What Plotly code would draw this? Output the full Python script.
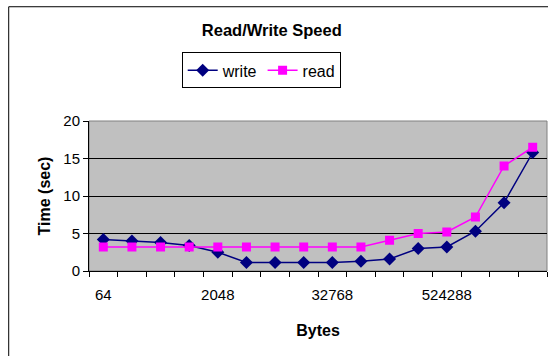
import plotly.graph_objects as go

sizes = ["64", "256", "512", "1024", "2048", "4096", "8192", "16384", "32768",
         "65536", "131072", "262144", "524288", "1048576", "2097152", "4194304"]
shown_labels = ["64", "2048", "32768", "524288"]
write_times = [4.2, 4.0, 3.8, 3.4, 2.5, 1.15, 1.15, 1.15, 1.15, 1.3, 1.6, 3.0, 3.2, 5.3, 9.1, 15.8]
read_times = [3.2, 3.2, 3.2, 3.2, 3.2, 3.2, 3.2, 3.2, 3.2, 3.2, 4.1, 5.0, 5.2, 7.2, 14.0, 16.5]

FONT = "Liberation Sans, Arial, sans-serif"

fig = go.Figure()
fig.add_trace(go.Scatter(
    x=sizes, y=write_times, name="write", mode="lines+markers",
    line=dict(color="#000080", width=1.5),
    marker=dict(symbol="diamond", size=10, color="#000080"),
))
fig.add_trace(go.Scatter(
    x=sizes, y=read_times, name="read", mode="lines+markers",
    line=dict(color="#FF00FF", width=1.5),
    marker=dict(symbol="square", size=9, color="#FF00FF"),
))

ticktext = [s if s in shown_labels else "" for s in sizes]

fig.update_layout(
    width=548, height=356,
    margin=dict(l=89, r=1, t=121, b=85),
    paper_bgcolor="white", plot_bgcolor="#C0C0C0",
    font=dict(family=FONT, size=15, color="black"),
    title=dict(text="Read/Write Speed", x=0.496, xanchor="center", y=0.916, yanchor="middle",
               font=dict(family=FONT, size=16.5, weight="bold", color="black")),
    showlegend=True,
    legend=dict(orientation="h", x=0.376, xanchor="center", y=1.337, yanchor="middle",
                bordercolor="black", borderwidth=1, bgcolor="white",
                font=dict(family=FONT, size=16), itemwidth=30),
    xaxis=dict(type="category", tickmode="array", tickvals=sizes, ticktext=ticktext,
               tickson="boundaries", ticks="outside", ticklen=5, tickcolor="black",
               tickangle=0,
               showline=True, linecolor="black", linewidth=1, showgrid=False,
               range=[-0.5, len(sizes) - 0.5], ticklabelstandoff=10,
               title=dict(text="Bytes", standoff=22, font=dict(family=FONT, size=16, weight="bold"))),
    yaxis=dict(range=[0, 20], dtick=5, ticks="outside", ticklen=5, tickcolor="black",
               showline=True, linecolor="black", linewidth=1,
               showgrid=True, gridcolor="black", gridwidth=1, zeroline=False,
               title=dict(text="Time (sec)", standoff=8, font=dict(family=FONT, size=16, weight="bold"))),
    shapes=[
        dict(type="rect", xref="paper", yref="paper", x0=0, x1=1, y0=0, y1=1,
             line=dict(color="#808080", width=1), layer="below"),
        dict(type="rect", xref="paper", yref="paper", x0=-0.1753, x1=1.3, y0=-1.0, y1=1.7617,
             line=dict(color="black", width=1), fillcolor="rgba(0,0,0,0)", layer="above"),
    ],
)

fig.write_html("out.html")
